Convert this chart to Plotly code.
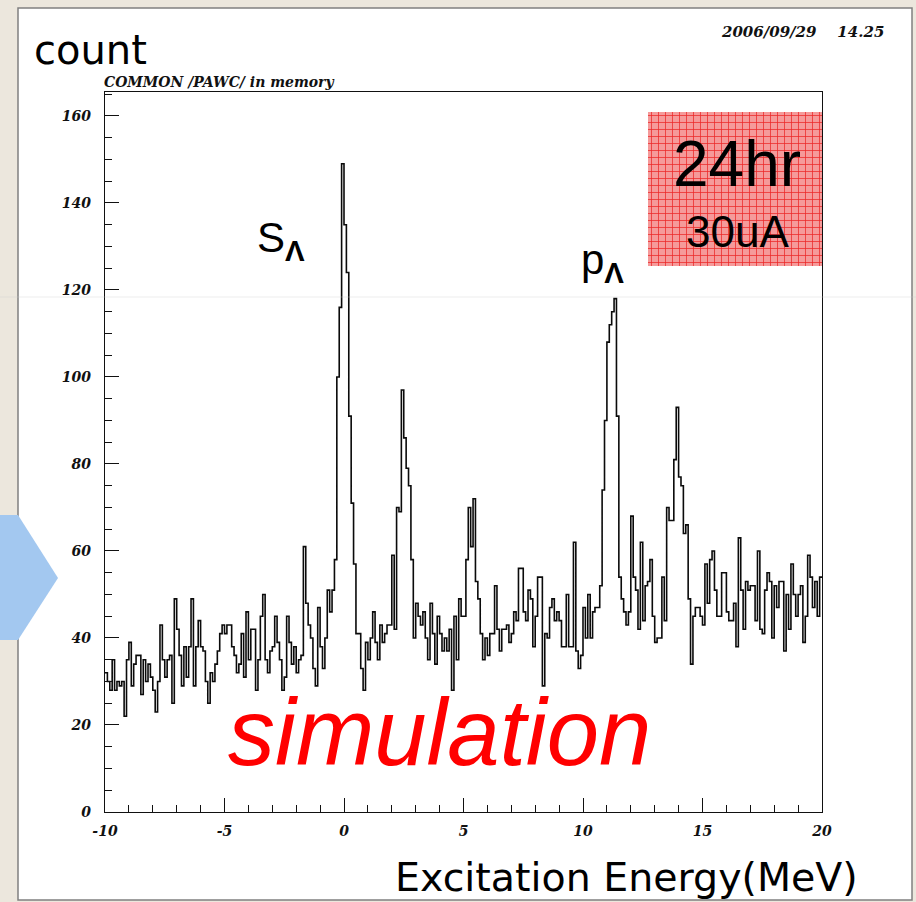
import plotly.graph_objects as go

# ---------------- data ----------------
x_start = -10.0
bin_width = 0.1
counts = [
    32, 30, 28, 35, 28, 30, 29, 30, 22, 35,
    39, 29, 34, 36, 36, 27, 35, 30, 34, 31,
    28, 23, 30, 43, 35, 31, 35, 36, 25, 49,
    42, 36, 29, 38, 31, 38, 49, 29, 38, 44,
    38, 37, 30, 25, 32, 30, 34, 37, 41, 43,
    41, 43, 43, 38, 36, 32, 34, 41, 31, 46,
    35, 42, 42, 28, 35, 45, 50, 35, 32, 37,
    38, 45, 39, 35, 28, 31, 45, 39, 34, 38,
    32, 35, 36, 61, 48, 43, 40, 33, 29, 47,
    38, 33, 40, 51, 46, 51, 58, 100, 116, 149,
    135, 124, 91, 71, 57, 41, 41, 33, 28, 39,
    35, 40, 46, 39, 35, 43, 39, 41, 43, 43,
    59, 42, 70, 69, 97, 86, 79, 75, 58, 40,
    48, 45, 43, 46, 40, 35, 48, 41, 34, 45,
    41, 37, 40, 37, 42, 28, 45, 35, 49, 45,
    45, 58, 70, 61, 72, 53, 49, 41, 35, 40,
    36, 41, 41, 52, 42, 37, 42, 42, 43, 39,
    41, 46, 44, 56, 56, 46, 44, 51, 49, 38,
    45, 54, 54, 29, 41, 40, 47, 49, 44, 46,
    44, 38, 38, 50, 38, 38, 62, 37, 33, 36,
    47, 40, 50, 40, 46, 47, 47, 52, 74, 90,
    108, 112, 115, 118, 91, 54, 49, 46, 43, 46,
    68, 54, 51, 42, 62, 44, 52, 53, 58, 45,
    39, 40, 40, 54, 44, 70, 67, 67, 81, 93,
    77, 75, 64, 66, 49, 34, 45, 47, 47, 45,
    43, 57, 48, 58, 60, 51, 45, 45, 55, 55,
    46, 44, 44, 48, 38, 63, 51, 42, 53, 51,
    52, 52, 44, 60, 42, 41, 51, 55, 53, 40,
    52, 47, 53, 53, 37, 50, 42, 57, 50, 45,
    50, 52, 39, 45, 59, 54, 47, 53, 45, 54,
]
x_tickvals = [-10, -5, 0, 5, 10, 15, 20]
x_ticktext = ["-10", "-5", "0", "5", "10", "15", "20"]
y_tickvals = [0, 20, 40, 60, 80, 100, 120, 140, 160]

# bin edges for step outline
edges = [round(x_start + bin_width * i, 4) for i in range(len(counts) + 1)]
step_y = counts + [counts[-1]]

# ---------------- layout geometry ----------------
W, H = 916, 902
L, R, T, B = 105, 94, 92, 90
PW, PH = W - L - R, H - T - B


def px(xp):
    return (xp - L) / PW


def py(yp):
    return (H - B - yp) / PH


fig = go.Figure()
fig.add_trace(go.Scatter(
    x=edges, y=step_y, mode="lines", line=dict(shape="hv", color="#0a0a0a", width=1.6),
    hoverinfo="skip", showlegend=False,
))

tickfont = dict(family="DejaVu Serif", size=14, color="#111111", weight="bold", style="italic")

shapes = []
# white slide panel
shapes.append(dict(type="rect", xref="paper", yref="paper", x0=px(18), x1=px(912), y0=py(900), y1=py(8),
                   fillcolor="white", line=dict(color="#808080", width=1.5), layer="below"))
# blue arrow on the left
shapes.append(dict(type="path", xref="paper", yref="paper",
                   path="M {a},{b} L {c},{b} L {d},{e} L {c},{f} L {a},{f} Z".format(
                       a=px(0), b=py(515), c=px(18), d=px(58), e=py(578), f=py(640)),
                   fillcolor="#a3c8f0", line=dict(width=0), layer="above"))
# red box with grid
bx0, bx1, by0, by1 = 648, 822, 112, 266
shapes.append(dict(type="rect", xref="paper", yref="paper", x0=px(bx0), x1=px(bx1), y0=py(by1), y1=py(by0),
                   fillcolor="#f59a9a", line=dict(width=0), layer="above"))
gp = []
g = bx0 + 3.5
while g < bx1:
    gp.append("M {:.5f},{:.5f} L {:.5f},{:.5f}".format(px(g), py(by0), px(g), py(by1)))
    g += 7
g = by0 + 3.5
while g < by1:
    gp.append("M {:.5f},{:.5f} L {:.5f},{:.5f}".format(px(bx0), py(g), px(bx1), py(g)))
    g += 7
shapes.append(dict(type="path", xref="paper", yref="paper", path=" ".join(gp),
                   line=dict(color="rgba(235,40,40,0.75)", width=1), layer="above"))
# faint slide line across
shapes.append(dict(type="line", xref="paper", yref="paper", x0=px(0), x1=px(916), y0=py(297), y1=py(297),
                   line=dict(color="rgba(200,200,200,0.35)", width=1), layer="above"))

annotations = [
    dict(text="count", x=px(90), y=py(50), font=dict(family="DejaVu Sans", size=40, color="black")),
    dict(text="Excitation Energy(MeV)", x=px(626), y=py(877),
         font=dict(family="DejaVu Sans", size=39.5, color="black")),
    dict(text="COMMON /PAWC/ in memory", x=px(102), y=py(82), xanchor="left",
         font=dict(family="DejaVu Serif", size=14, color="#111111", weight="bold", style="italic")),
    dict(text="2006/09/29&nbsp;&nbsp;&nbsp;&nbsp;14.25", x=px(886), y=py(32), xanchor="right",
         font=dict(family="DejaVu Serif", size=15, color="#111111", weight="bold", style="italic")),
    dict(text="S<sub><b>Λ</b></sub>", x=px(281), y=py(240),
         font=dict(family="Liberation Sans", size=42, color="black")),
    dict(text="p<sub><b>Λ</b></sub>", x=px(602), y=py(262),
         font=dict(family="Liberation Sans", size=42, color="black")),
    dict(text="24hr", x=px(737), y=py(164), font=dict(family="Liberation Sans", size=64, color="black")),
    dict(text="30uA", x=px(737), y=py(232), font=dict(family="Liberation Sans", size=44, color="black")),
    dict(text="simulation", x=px(439), y=py(732),
         font=dict(family="Liberation Sans", size=94, color="#ff0000", style="italic")),
]
for a in annotations:
    a.update(xref="paper", yref="paper", showarrow=False)
    a.setdefault("xanchor", "center")
    a.setdefault("yanchor", "middle")

fig.update_layout(
    width=W, height=H,
    margin=dict(l=L, r=R, t=T, b=B, pad=0),
    paper_bgcolor="#ece7dd",
    plot_bgcolor="white",
    shapes=shapes,
    annotations=annotations,
    xaxis=dict(range=[-10, 20], tickvals=x_tickvals, ticktext=x_ticktext, ticks="inside", ticklen=14,
               tickcolor="#111111", tickwidth=1, showline=True, linecolor="#111111", linewidth=1.2,
               mirror=True, showgrid=False, zeroline=False, tickfont=tickfont, ticklabelstandoff=6,
               minor=dict(dtick=1, ticks="inside", ticklen=7, tickcolor="#111111", showgrid=False)),
    yaxis=dict(range=[0, 165.5], tickvals=y_tickvals, ticks="inside", ticklen=14,
               tickcolor="#111111", tickwidth=1, showline=True, linecolor="#111111", linewidth=1.2,
               mirror=True, showgrid=False, zeroline=False, tickfont=tickfont, ticklabelstandoff=10,
               minor=dict(dtick=5, ticks="inside", ticklen=7, tickcolor="#111111", showgrid=False)),
)

fig.write_html("out.html")
